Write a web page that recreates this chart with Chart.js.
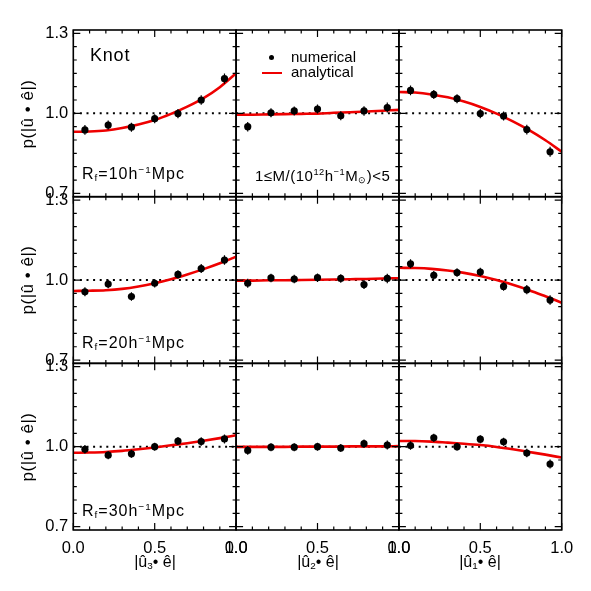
<!DOCTYPE html>
<html><head><meta charset="utf-8">
<script src="https://cdn.jsdelivr.net/npm/chart.js@4.4.1/dist/chart.umd.min.js"></script>
<style>
html,body{margin:0;padding:0;background:#fff;}
#wrap{position:relative;width:591px;height:591px;overflow:hidden;font-family:'Liberation Sans',Arial,sans-serif;color:#000;background:#fff;}
#wrap canvas{position:absolute;left:0;top:0;}
.t{position:absolute;white-space:nowrap;line-height:1;}
.t sub,.t sup{line-height:0;font-size:62%;}
.t sub{vertical-align:-0.25em;}
.t sup{vertical-align:0.62em;}
.yt{font-size:17px;letter-spacing:0.5px;transform:translate(-50%,-50%) rotate(-90deg);}
.xt{font-size:16px;transform:translate(-50%,-50%);}
.rf{font-size:16px;letter-spacing:1px;left:82px;}
</style></head><body><div id="wrap">
<div class="t yt" style="left:27px;top:113.5px">p(|û • ê|)</div>
<div class="t yt" style="left:27px;top:280px">p(|û • ê|)</div>
<div class="t yt" style="left:27px;top:446.5px">p(|û • ê|)</div>
<div class="t xt" style="left:155px;top:562px">|û<sub>3</sub>• ê|</div>
<div class="t xt" style="left:318px;top:562px">|û<sub>2</sub>• ê|</div>
<div class="t xt" style="left:480px;top:562px">|û<sub>1</sub>• ê|</div>
<div class="t" style="left:90px;top:46px;font-size:18px;letter-spacing:0.8px">Knot</div>
<div class="t rf" style="top:166px">R<sub>f</sub>=10h<sup>−1</sup>Mpc</div>
<div class="t rf" style="top:334.5px">R<sub>f</sub>=20h<sup>−1</sup>Mpc</div>
<div class="t rf" style="top:502.5px">R<sub>f</sub>=30h<sup>−1</sup>Mpc</div>
<div class="t" style="left:255px;top:168px;font-size:15px;letter-spacing:0.5px">1≤M/(10<sup>12</sup>h<sup>−1</sup>M<sub>⊙</sub>)&lt;5</div>
<div style="position:absolute;left:269.2px;top:54.8px;width:5px;height:5px;border-radius:50%;background:#000"></div>
<div class="t" style="left:291px;top:49px;font-size:15px">numerical</div>
<div style="position:absolute;left:261.7px;top:71.5px;width:20px;height:2.5px;background:#ee0000"></div>
<div class="t" style="left:291px;top:64px;font-size:15px">analytical</div>
</div>
<script>
// ---------- data ----------
const binCenters = [0.0714, 0.2143, 0.3571, 0.5, 0.6429, 0.7857, 0.9286];
const curveX = [0, 0.1, 0.2, 0.3, 0.4, 0.5, 0.6, 0.7, 0.8, 0.9, 1.0];
const refX = [0, 1];
const refY = [1, 1];
const xTickLabels = [0, 0.5, 1];
const xMinorTicks = [0.1, 0.2, 0.3, 0.4, 0.6, 0.7, 0.8, 0.9];
const yTickLabels = [0.7, 1.0, 1.3];
const yMinorTicks = [0.75, 0.8, 0.85, 0.9, 0.95, 1.05, 1.1, 1.15, 1.2, 1.25];

// numerical points (rows: R_f = 10, 20, 30; columns: u3, u2, u1)
const numR10u3 = [0.938, 0.956, 0.948, 0.980, 0.999, 1.050, 1.130];
const numR10u2 = [0.950, 1.002, 1.009, 1.016, 0.991, 1.009, 1.022];
const numR10u1 = [1.086, 1.071, 1.055, 0.999, 0.990, 0.939, 0.856];
const numR20u3 = [0.956, 0.985, 0.938, 0.988, 1.021, 1.043, 1.075];
const numR20u2 = [0.988, 1.008, 1.004, 1.009, 1.006, 0.983, 1.006];
const numR20u1 = [1.061, 1.018, 1.028, 1.030, 0.976, 0.964, 0.925];
const numR30u3 = [0.990, 0.968, 0.973, 1.000, 1.021, 1.019, 1.029];
const numR30u2 = [0.986, 0.998, 0.998, 1.000, 0.995, 1.011, 1.006];
const numR30u1 = [1.004, 1.033, 1.000, 1.028, 1.018, 0.976, 0.935];

// error bars (half-length)
const errR10 = [0.018, 0.017, 0.017, 0.017, 0.017, 0.018, 0.019];
const errR20 = [0.017, 0.016, 0.016, 0.016, 0.016, 0.017, 0.018];
const errR30 = [0.016, 0.015, 0.015, 0.015, 0.015, 0.016, 0.017];

// analytical curves sampled at curveX
const anaR10u3 = [0.931, 0.932, 0.936, 0.945, 0.958, 0.975, 0.998, 1.025, 1.057, 1.098, 1.150];
const anaR10u2 = [0.995, 0.995, 0.996, 0.997, 0.998, 0.999, 1.002, 1.004, 1.007, 1.010, 1.013];
const anaR10u1 = [1.080, 1.078, 1.071, 1.060, 1.044, 1.024, 0.999, 0.970, 0.937, 0.899, 0.856];
const anaR20u3 = [0.959, 0.960, 0.962, 0.967, 0.976, 0.988, 1.003, 1.021, 1.041, 1.063, 1.088];
const anaR20u2 = [0.998, 0.998, 0.999, 0.999, 1.000, 1.001, 1.002, 1.003, 1.004, 1.006, 1.007];
const anaR20u1 = [1.046, 1.045, 1.042, 1.036, 1.027, 1.015, 1.000, 0.982, 0.962, 0.939, 0.915];
const anaR30u3 = [0.977, 0.978, 0.980, 0.984, 0.990, 0.997, 1.005, 1.013, 1.022, 1.032, 1.043];
const anaR30u2 = [0.999, 0.999, 0.999, 0.999, 1.000, 1.000, 1.000, 1.001, 1.001, 1.001, 1.002];
const anaR30u1 = [1.021, 1.021, 1.019, 1.015, 1.011, 1.006, 0.999, 0.990, 0.980, 0.970, 0.959];

// ---------- tables built from the arrays ----------
const numTable = [[numR10u3, numR10u2, numR10u1], [numR20u3, numR20u2, numR20u1], [numR30u3, numR30u2, numR30u1]];
const anaTable = [[anaR10u3, anaR10u2, anaR10u1], [anaR20u3, anaR20u2, anaR20u1], [anaR30u3, anaR30u2, anaR30u1]];
const errTable = [errR10, errR20, errR30];

// ---------- layout ----------
const W = 591, H = 591;
const colLeft = [73.3, 236.1, 398.9], colW = 162.8;
const rowTop = [30, 196.7, 363.3], rowH = 166.7;
const yMin = 0.6875, yMax = 1.3125;
const Y_AXIS_W = 50, X_AXIS_H = 30;

Chart.defaults.font.family = "'Liberation Sans', Arial, sans-serif";
Chart.defaults.font.size = 16.5;
Chart.defaults.color = '#000';

const frame = {
  id: 'frame',
  afterDraw(chart) {
    const {ctx, chartArea: a, scales: {x, y}} = chart;
    ctx.save();
    ctx.strokeStyle = '#000';
    ctx.lineWidth = 1.2;
    ctx.beginPath();
    const xt = (vals, len) => vals.forEach(v => {
      const p = x.getPixelForValue(v);
      ctx.moveTo(p, a.bottom); ctx.lineTo(p, a.bottom - len);
      ctx.moveTo(p, a.top); ctx.lineTo(p, a.top + len);
    });
    const yt = (vals, len) => vals.forEach(v => {
      const p = y.getPixelForValue(v);
      ctx.moveTo(a.left, p); ctx.lineTo(a.left + len, p);
      ctx.moveTo(a.right, p); ctx.lineTo(a.right - len, p);
    });
    xt(xMinorTicks, 3.5); xt(xTickLabels, 7);
    yt(yMinorTicks, 3.5); yt(yTickLabels, 7);
    ctx.stroke();
    ctx.lineWidth = 1.6;
    ctx.strokeRect(a.left, a.top, a.right - a.left, a.bottom - a.top);
    ctx.restore();
  }
};

const wrap = document.getElementById('wrap');
for (let r = 0; r < 3; r++) {
  for (let c = 0; c < 3; c++) {
    const cv = document.createElement('canvas');
    cv.width = W; cv.height = H;
    wrap.insertBefore(cv, wrap.firstChild);
    const num = numTable[r][c], ana = anaTable[r][c], err = errTable[r];
    const errPts = [];
    binCenters.forEach((x, i) => {
      errPts.push({x, y: num[i] - err[i]}, {x, y: num[i] + err[i]}, {x, y: null});
    });
    new Chart(cv, {
      type: 'line',
      data: {
        datasets: [
          {data: binCenters.map((x, i) => ({x, y: num[i]})), showLine: false, pointRadius: 3.6,
           pointBackgroundColor: '#000', pointBorderColor: '#000', pointBorderWidth: 0, pointStyle: 'circle'},
          {data: errPts, borderColor: '#000', borderWidth: 1.2, pointRadius: 0, spanGaps: false},
          {data: curveX.map((x, i) => ({x, y: ana[i]})), borderColor: '#ee0000', borderWidth: 2.6,
           pointRadius: 0, cubicInterpolationMode: 'monotone'},
          {data: refX.map((x, i) => ({x, y: refY[i]})), borderColor: '#000', borderWidth: 2,
           borderDash: [2, 4.6], pointRadius: 0}
        ]
      },
      options: {
        responsive: false, animation: false, devicePixelRatio: 1, events: [],
        layout: {padding: {left: colLeft[c] - Y_AXIS_W, top: rowTop[r], right: W - colLeft[c] - colW,
                           bottom: H - rowTop[r] - rowH - X_AXIS_H}},
        plugins: {legend: {display: false}, tooltip: {enabled: false}},
        scales: {
          x: {type: 'linear', min: 0, max: 1,
              afterFit: s => { s.height = X_AXIS_H; },
              afterBuildTicks: s => { s.ticks = xTickLabels.map(v => ({value: v})); },
              grid: {display: false, drawTicks: false}, border: {display: false},
              ticks: {display: r === 2, padding: 8.5, maxRotation: 0, autoSkip: false,
                      callback: v => Number(v).toFixed(1)}},
          y: {type: 'linear', min: yMin, max: yMax,
              afterFit: s => { s.width = Y_AXIS_W; },
              afterBuildTicks: s => { s.ticks = yTickLabels.map(v => ({value: v})); },
              grid: {display: false, drawTicks: false}, border: {display: false},
              ticks: {display: c === 0, padding: 5, autoSkip: false,
                      callback: v => Number(v).toFixed(1)}}
        }
      },
      plugins: [frame]
    });
  }
}
</script>
</body></html>
